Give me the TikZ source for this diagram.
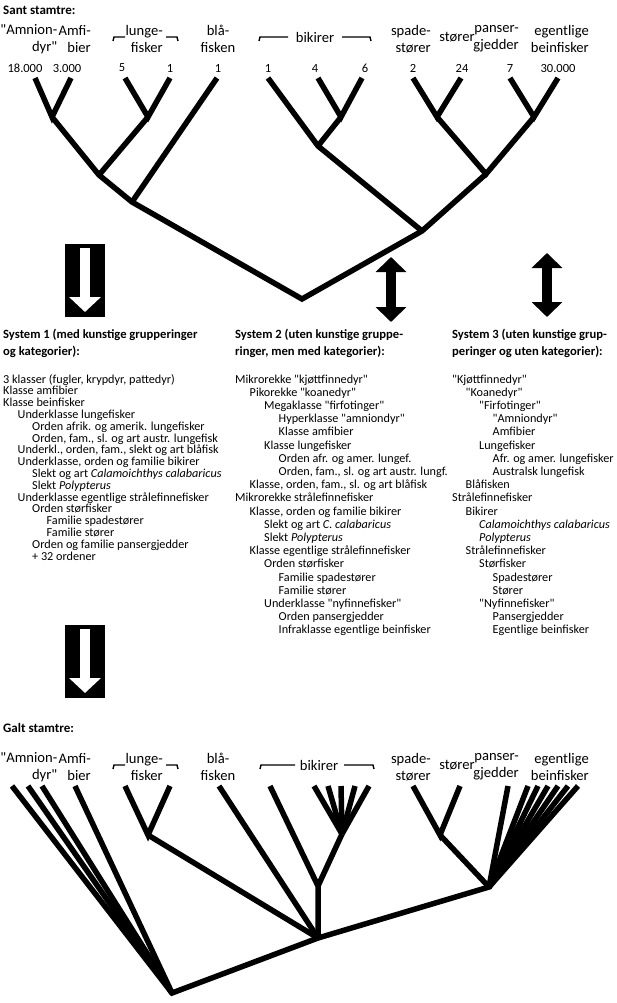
\documentclass[tikz,border=0pt]{standalone}
\usepackage{fontspec}
\setmainfont{Carlito}
\usetikzlibrary{arrows.meta}
\newcommand\qmark{\textquotedbl}

\tikzset{
  branch/.style={line width=5.5pt,line join=miter},
  bracket/.style={line width=1.4pt},
  taxon/.style={font=\fontsize{14.6}{17}\selectfont,align=right,anchor=east,inner sep=0pt},
  count/.style={font=\fontsize{12.5}{12}\selectfont,inner sep=0pt},
  title/.style={font=\bfseries\fontsize{13}{14}\selectfont,anchor=west,inner sep=0pt},
  syshead/.style={font=\bfseries\fontsize{12.6}{17}\selectfont,anchor=north west,align=left,inner sep=0pt},
  item/.style={font=\fontsize{12.2}{12}\selectfont,anchor=base west,inner sep=0pt},
  fatarrow/.style={line width=10pt,{Triangle[length=15pt,width=30pt]}-{Triangle[length=15pt,width=30pt]}},
  whitearrow/.style={white,line width=10pt,-{Triangle[length=15pt,width=31pt]}},
}

\begin{document}
\begin{tikzpicture}[x=1pt,y=-1pt]
  \useasboundingbox (0,0) rectangle (616,1003);

  % true tree: labels
  \node[title] (sant) at (3,10) {Sant stamtre:};
  \node[taxon] (tAmn) at (57.5,39) {\qmark Amnion-\\dyr\qmark};
  \node[taxon] (tAmf) at (91,39) {Amfi-\\bier};
  \node[taxon] (tLun) at (163,39) {lunge-\\fisker};
  \node[taxon,align=center,anchor=center] (tBla) at (218,39) {blå-\\fisken};
  \node[taxon,anchor=center] (tBik) at (315,37) {bikirer};
  \node[taxon] (tSpa) at (431,39) {spade-\\stører};
  \node[taxon,anchor=center] (tSto) at (457,37) {stører};
  \node[taxon] (tPan) at (519,39) {panser-\\gjedder};
  \node[taxon] (tEgl) at (589,39) {egentlige\\beinfisker};
  \draw[bracket] (113,41) -- (114,37) -- (125,37);
  \draw[bracket] (166,37) -- (177,37) -- (178,41);
  \draw[bracket] (259,41) -- (260,37) -- (288,37);
  \draw[bracket] (342,37) -- (370,37) -- (371,41);
  \node[count] (nAmn) at (25,68) {18.000};
  \node[count] (nAmf) at (67,68) {3.000};
  \node[count] (nLu5) at (122,68) {5};
  \node[count] (nLu1) at (170,68) {1};
  \node[count] (nBla) at (218,68) {1};
  \node[count] (nBi1) at (268,68) {1};
  \node[count] (nBi4) at (315,68) {4};
  \node[count] (nBi6) at (365,68) {6};
  \node[count] (nSpa) at (413,68) {2};
  \node[count] (nSto) at (462,68) {24};
  \node[count] (nPan) at (510,68) {7};
  \node[count] (nEgl) at (558,68) {30.000};

  % true tree: branches
  \coordinate (amn) at (35,78);  \coordinate (amf) at (71,78);
  \coordinate (lu5) at (125,78); \coordinate (lu1) at (170,78);
  \coordinate (bla) at (217,78); \coordinate (bi1) at (268,78);
  \coordinate (bi4) at (318,78); \coordinate (bi6) at (362,78);
  \coordinate (spa) at (413,78); \coordinate (sto) at (461,78);
  \coordinate (pan) at (510,78); \coordinate (egl) at (558,78);
  \coordinate (v1) at (52,117);  \coordinate (v2) at (148,117);
  \coordinate (jA) at (99,175);  \coordinate (jB) at (132,202);
  \coordinate (root) at (302,299);
  \coordinate (jD) at (341,117); \coordinate (jC) at (318,146);
  \coordinate (jE) at (437,117); \coordinate (jF) at (534,117);
  \coordinate (jG) at (486,174); \coordinate (jH) at (422,231);
  \draw[branch] (amn) -- (v1) -- (amf);
  \draw[branch] (lu5) -- (v2) -- (lu1);
  \draw[branch] (bi4) -- (jD) -- (bi6);
  \draw[branch] (spa) -- (jE) -- (sto);
  \draw[branch] (pan) -- (jF) -- (egl);
  \draw[branch] (v1) -- (jA) -- (jB) -- (root) -- (jH) -- (jG);
  \draw[branch] (v2) -- (jA);
  \draw[branch] (bla) -- (jB);
  \draw[branch] (bi1) -- (jC) -- (jH);
  \draw[branch] (jD) -- (jC);
  \draw[branch] (jE) -- (jG) -- (jF);

  % arrows
  \fill (65,244) rectangle (105,317);
  \coordinate (boxAtop) at (85,248); \coordinate (boxAtip) at (85,312);
  \draw[whitearrow] (boxAtop) -- (boxAtip);
  \coordinate (dblAtop) at (391,257); \coordinate (dblAbot) at (391,322);
  \draw[fatarrow] (dblAtop) -- (dblAbot);
  \coordinate (dblBtop) at (547,253); \coordinate (dblBbot) at (547,317);
  \draw[fatarrow] (dblBtop) -- (dblBbot);

  % system 1
  \node[syshead] (headA) at (3,329) {System 1 (med kunstige grupperinger\\og kategorier):};
  \foreach \lvl/\txt [count=\i] in {
    0/{3 klasser (fugler, krypdyr, pattedyr)},
    0/{Klasse amfibier},
    0/{Klasse beinfisker},
    1/{Underklasse lungefisker},
    2/{Orden afrik. og amerik. lungefisker},
    2/{Orden, fam., sl. og art austr. lungefisk},
    1/{Underkl., orden, fam., slekt og art blåfisk},
    1/{Underklasse, orden og familie bikirer},
    2/{Slekt og art \textit{Calamoichthys calabaricus}},
    2/{Slekt \textit{Polypterus}},
    1/{Underklasse egentlige strålefinnefisker},
    2/{Orden størfisker},
    3/{Familie spadestører},
    3/{Familie stører},
    2/{Orden og familie pansergjedder},
    2/{+ 32 ordener}}
    \node[item] (sysA-\i) at ({3+14.5*\lvl},{371.2+11.8*\i}) {\txt};

  % system 2
  \node[syshead] (headB) at (235,329) {System 2 (uten kunstige gruppe-\\ringer, men med kategorier):};
  \foreach \lvl/\txt [count=\i] in {
    0/{Mikrorekke \qmark kjøttfinnedyr\qmark},
    1/{Pikorekke \qmark koanedyr\qmark},
    2/{Megaklasse \qmark firfotinger\qmark},
    3/{Hyperklasse \qmark amniondyr\qmark},
    3/{Klasse amfibier},
    2/{Klasse lungefisker},
    3/{Orden afr. og amer. lungef.},
    3/{Orden, fam., sl. og art austr. lungf.},
    1/{Klasse, orden, fam., sl. og art blåfisk},
    0/{Mikrorekke strålefinnefisker},
    1/{Klasse, orden og familie bikirer},
    2/{Slekt og art \textit{C. calabaricus}},
    2/{Slekt \textit{Polypterus}},
    1/{Klasse egentlige strålefinnefisker},
    2/{Orden størfisker},
    3/{Familie spadestører},
    3/{Familie stører},
    2/{Underklasse \qmark nyfinnefisker\qmark},
    3/{Orden pansergjedder},
    3/{Infraklasse egentlige beinfisker}}
    \node[item] (sysB-\i) at ({235+14.5*\lvl},{369.8+13.2*\i}) {\txt};

  % system 3
  \node[syshead] (headC) at (452,329) {System 3 (uten kunstige grup-\\peringer og uten kategorier):};
  \foreach \lvl/\txt [count=\i] in {
    0/{\qmark Kjøttfinnedyr\qmark},
    1/{\qmark Koanedyr\qmark},
    2/{\qmark Firfotinger\qmark},
    3/{\qmark Amniondyr\qmark},
    3/{Amfibier},
    2/{Lungefisker},
    3/{Afr. og amer. lungefisker},
    3/{Australsk lungefisk},
    1/{Blåfisken},
    0/{Strålefinnefisker},
    1/{Bikirer},
    2/{\textit{Calamoichthys calabaricus}},
    2/{\textit{Polypterus}},
    1/{Strålefinnefisker},
    2/{Størfisker},
    3/{Spadestører},
    3/{Stører},
    2/{\qmark Nyfinnefisker\qmark},
    3/{Pansergjedder},
    3/{Egentlige beinfisker}}
    \node[item] (sysC-\i) at ({452+13.5*\lvl},{369.8+13.2*\i}) {\txt};

  \fill (65,625) rectangle (105,698);
  \coordinate (boxBtop) at (85,629); \coordinate (boxBtip) at (85,693);
  \draw[whitearrow] (boxBtop) -- (boxBtip);

  % false tree: labels
  \node[title] (galt) at (3,728) {Galt stamtre:};
  \node[taxon] (gAmn) at (57.5,767) {\qmark Amnion-\\dyr\qmark};
  \node[taxon] (gAmf) at (91,767) {Amfi-\\bier};
  \node[taxon] (gLun) at (163,767) {lunge-\\fisker};
  \node[taxon,align=center,anchor=center] (gBla) at (218,767) {blå-\\fisken};
  \node[taxon,anchor=center] (gBik) at (319,765) {bikirer};
  \node[taxon] (gSpa) at (431,767) {spade-\\stører};
  \node[taxon,anchor=center] (gSto) at (457,765) {stører};
  \node[taxon] (gPan) at (519,767) {panser-\\gjedder};
  \node[taxon] (gEgl) at (589,767) {egentlige\\beinfisker};
  \draw[bracket] (113,769) -- (114,765) -- (125,765);
  \draw[bracket] (166,765) -- (177,765) -- (178,769);
  \draw[bracket] (260,769) -- (261,765) -- (295,765);
  \draw[bracket] (344,765) -- (373,765) -- (374,769);

  % false tree: branches
  \coordinate (ga1) at (12,786);  \coordinate (ga2) at (28,786);
  \coordinate (ga3) at (42,786);  \coordinate (gamf) at (75,786);
  \coordinate (glu5) at (125,786); \coordinate (glu1) at (170,786);
  \coordinate (gbla) at (219,786); \coordinate (gbi1) at (270,786);
  \coordinate (gspa) at (413,786); \coordinate (gsto) at (460,786);
  \coordinate (gpan) at (508,786);
  \foreach \x [count=\k] in {314,328,341,355,369}
    \coordinate (gbf\k) at (\x,786);
  \foreach \x [count=\k] in {528,538,548,558,568,578}
    \coordinate (gef\k) at (\x,786);
  \coordinate (groot) at (172,993); \coordinate (gM) at (318,938);
  \coordinate (gR) at (489,887);    \coordinate (gN) at (318,886);
  \coordinate (gF) at (342,834);    \coordinate (glv) at (148,835);
  \coordinate (gsv) at (440,835);
  \draw[branch] (ga1) -- (groot) -- (gM) -- (gR) -- (gpan);
  \draw[branch] (ga2) -- (groot);
  \draw[branch] (ga3) -- (groot);
  \draw[branch] (gamf) -- (groot);
  \draw[branch] (glu5) -- (glv) -- (glu1);
  \draw[branch] (glv) -- (gM);
  \draw[branch] (gbla) -- (gM);
  \draw[branch] (gbi1) -- (gN) -- (gM);
  \draw[branch] (gN) -- (gF);
  \foreach \k in {1,...,5}
    \draw[branch] (gbf\k) -- (gF);
  \draw[branch] (gspa) -- (gsv) -- (gsto);
  \draw[branch] (gsv) -- (gR);
  \foreach \k in {1,...,6}
    \draw[branch] (gef\k) -- (gR);
\end{tikzpicture}
\end{document}
